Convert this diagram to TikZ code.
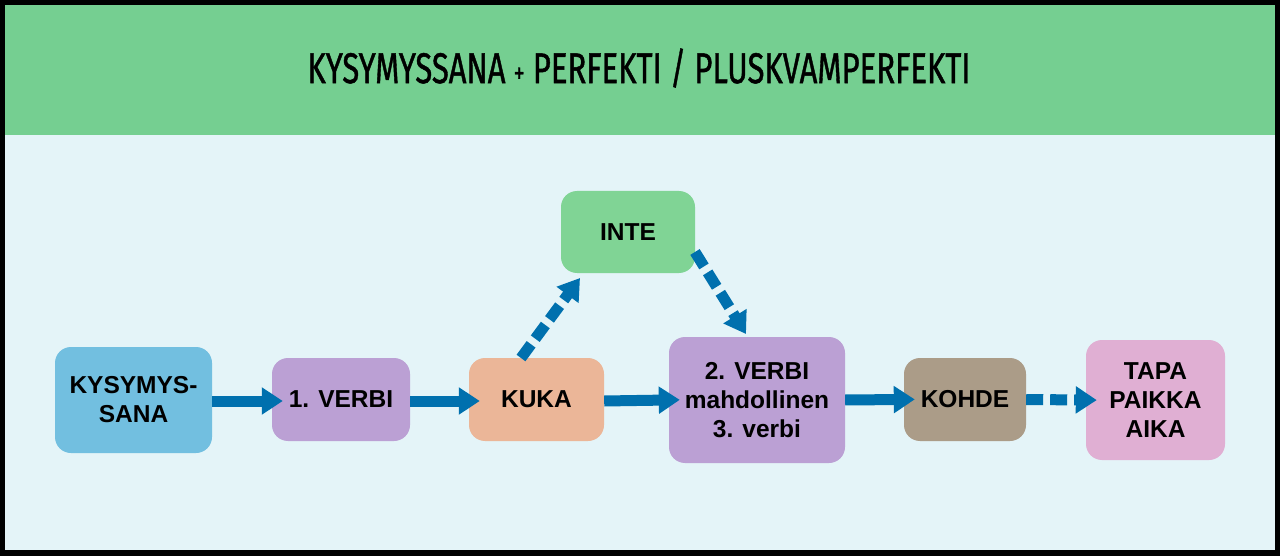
\documentclass[tikz,border=0pt]{standalone}
\usepackage{fontspec}
\setmainfont{Liberation Sans}
\newfontfamily\titlefont[FakeBold=1.2]{Fira Sans}
\usetikzlibrary{arrows.meta}
\definecolor{bandgreen}{HTML}{75CF91}
\definecolor{bglight}{HTML}{E4F4F8}
\definecolor{cblue}{HTML}{72BFE0}
\definecolor{cpurple}{HTML}{BBA0D4}
\definecolor{corange}{HTML}{EBB698}
\definecolor{cgreen}{HTML}{80D495}
\definecolor{cbrown}{HTML}{AB9C88}
\definecolor{cpink}{HTML}{E0AFD3}
\definecolor{arrblue}{HTML}{0070AE}
\tikzset{
  box/.style={rounded corners=16pt, inner sep=0pt, align=center,
    font=\fontsize{24.5}{29}\selectfont\bfseries},
  flow/.style={draw=arrblue, line width=11pt,
    -{Triangle[width=26pt,length=21pt]}, arrblue},
  dflow/.style={flow, dash pattern=on 17pt off 7pt}
}
\begin{document}
\begin{tikzpicture}[x=1pt,y=-1pt]
\useasboundingbox (0,0) rectangle (1280,556);
\fill[black] (0,0) rectangle (1280,556);
\fill[bglight] (5,5) rectangle (1275,550);
\fill[bandgreen] (5,5) rectangle (1275,135);
\node[inner sep=0pt] (title) at (639,68) {\resizebox{663pt}{\height}{\titlefont\fontsize{43}{43}\selectfont KYSYMYSSANA {\fontsize{30}{30}\selectfont+} PERFEKTI / PLUSKVAMPERFEKTI}};

\node[box, fill=cblue, minimum width=157pt, minimum height=106pt] (k) at (133.5,400) {KYSYMYS-\\SANA};
\node[box, fill=cpurple, minimum width=138pt, minimum height=83pt] (v1) at (341,399.5) {1. VERBI};
\node[box, fill=corange, minimum width=135pt, minimum height=83pt] (kuka) at (536.5,399.5) {KUKA};
\node[box, fill=cgreen, minimum width=134pt, minimum height=82pt] (inte) at (628,232) {INTE};
\node[box, fill=cpurple, minimum width=176pt, minimum height=126pt] (v2) at (757,400) {2. VERBI\\mahdollinen\\3. verbi};
\node[box, fill=cbrown, minimum width=122pt, minimum height=83pt] (kohde) at (965,399.5) {KOHDE};
\node[box, fill=cpink, minimum width=139pt, minimum height=120pt] (tapa) at (1155.5,400) {TAPA\\PAIKKA\\AIKA};

\draw[flow, shorten >=-11pt] ([yshift=-1pt]k.east) -- ([yshift=-1.5pt]v1.west);
\draw[flow, shorten >=-11pt] ([yshift=-1.5pt]v1.east) -- ([yshift=-1.5pt]kuka.west);
\draw[flow, shorten >=-11pt] ([yshift=-1.5pt]kuka.east) -- (v2.west);
\draw[flow, shorten >=-11pt] (v2.east) -- (kohde.west);
\draw[dflow, shorten >=-11pt] (kohde.east) -- (tapa.west);
\coordinate (a1) at (521,358);
\coordinate (a2) at (580,278);
\coordinate (b1) at (695,252);
\coordinate (b2) at (746,334);
\draw[dflow] (a1) -- (a2);
\draw[dflow] (b1) -- (b2);
\end{tikzpicture}
\end{document}
